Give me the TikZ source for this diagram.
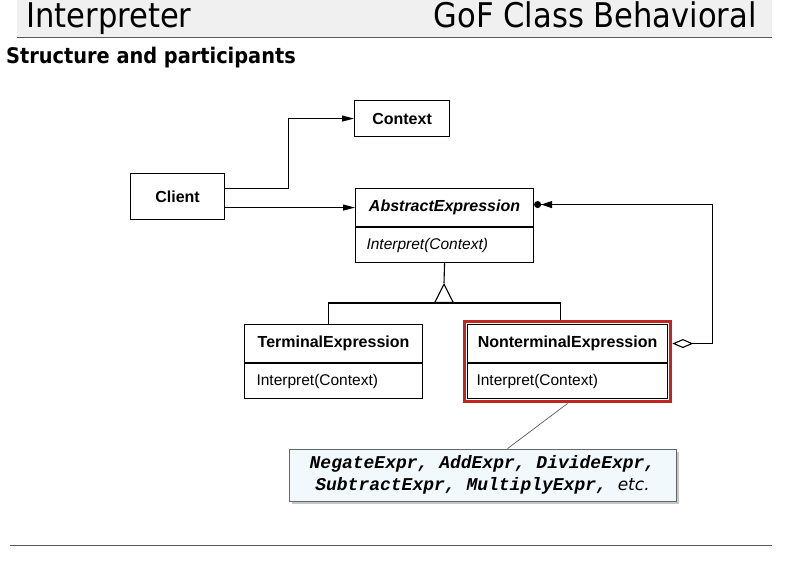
\documentclass[tikz,border=0pt]{standalone}
\usepackage{fontspec}
\setmainfont{Liberation Sans}
\newfontfamily\hdr{DejaVu Sans Condensed}
\newfontfamily\code{Liberation Mono}
\newfontfamily\dvs{DejaVu Sans}
\usetikzlibrary{arrows.meta,positioning,fit,shadows,calc}
\definecolor{frame}{RGB}{190,38,30}
\definecolor{notefill}{RGB}{242,249,252}
\begin{document}
\begin{tikzpicture}[x=1pt,y=-1pt,
  cls/.style={draw,line width=1.1pt,inner sep=0pt,font=\fontsize{15.5}{18}\selectfont},
  nm/.style={cls,font=\bfseries\fontsize{16}{18}\selectfont},
  arr/.style={line width=1.1pt,-{Triangle[length=12pt,width=6pt]}},
  conn/.style={line width=1.1pt}]
\useasboundingbox (0,0) rectangle (800,565);
% header
\fill[gray!12] (17,0) rectangle (772,37);
\draw[gray!70!black,line width=1pt] (17,37.5) -- (772,37.5);
\node[anchor=base west,inner sep=0pt,font=\hdr\fontsize{34}{38}\selectfont] (title) at (26,27.5) {Interpreter};
\node[anchor=base east,inner sep=0pt,font=\hdr\fontsize{34}{38}\selectfont] (cat) at (757,27.5) {GoF Class Behavioral};
\node[anchor=base west,inner sep=0pt,font=\hdr\bfseries\fontsize{21.5}{24}\selectfont] (sub) at (6,63) {Structure and participants};
% classes
\node[nm,anchor=north west,minimum width=95pt,minimum height=36pt] (ctx) at (354,100) {Context};
\node[nm,anchor=north west,minimum width=94pt,minimum height=46pt] (cl) at (130,173) {Client};
\node[nm,font=\bfseries\itshape\fontsize{16}{18}\selectfont,anchor=north west,minimum width=178pt,minimum height=38pt] (ae) at (355,188) {AbstractExpression};
\node[cls,font=\itshape\fontsize{15.5}{18}\selectfont,anchor=north,minimum width=178pt,minimum height=35pt,text width=156pt,align=left] (aeop) at (ae.south) {Interpret(Context)};
\node[nm,anchor=north west,minimum width=178pt,minimum height=38pt] (te) at (244,324) {TerminalExpression};
\node[cls,anchor=north,minimum width=178pt,minimum height=35pt,text width=154pt,align=left] (teop) at (te.south) {Interpret(Context)};
\node[nm,anchor=north west,minimum width=200pt,minimum height=38pt] (nt) at (467,324) {NonterminalExpression};
\node[cls,anchor=north,minimum width=200pt,minimum height=35pt,text width=182pt,align=left] (ntop) at (nt.south) {Interpret(Context)};
\node[fit=(nt)(ntop),inner sep=2.5pt,draw=frame,line width=3.5pt] (ntframe) {};
% note
\node[draw=gray!80!black,line width=0.8pt,fill=notefill,minimum width=387pt,minimum height=52pt,align=center,
  drop shadow={shadow xshift=2.5pt,shadow yshift=-2.5pt,opacity=0.45},
  font=\code\bfseries\itshape\fontsize{18}{22}\selectfont] (note) at (482.5,475)
  {NegateExpr, AddExpr, DivideExpr,\\SubtractExpr, MultiplyExpr, {\dvs\mdseries\itshape\fontsize{17}{22}\selectfont etc.}};
% connectors
\draw[arr] ([yshift=8pt]cl.east) -- ++(63,0) |- (ctx.west);
\draw[arr] (cl.east |- ae.west) -- (ae.west);
\coordinate (apex) at (444,283);
\coordinate (tbase) at (444,303);
\draw[conn] (aeop.south) -- (apex);
\draw[conn,-{Triangle[open,length=20pt,width=20pt]}] (tbase) -- (apex);
\draw[conn] ([xshift=-5pt]te.north) |- (tbase) -| ([xshift=-7pt]ntframe.north);
\draw[conn,{Diamond[open,length=21pt,width=9pt]}-{Triangle[length=11pt,width=7pt] Circle[length=7pt]}]
  (ntframe.east |- nt.east) -- ++(40,0) |- ([yshift=3pt]ae.east);
\draw[gray!70!black,line width=0.7pt] ([xshift=25pt]note.north) -- (ntframe.south);
% footer
\draw[gray!70!black,line width=1.2pt] (10,545.5) -- (772,545.5);
\end{tikzpicture}
\end{document}
